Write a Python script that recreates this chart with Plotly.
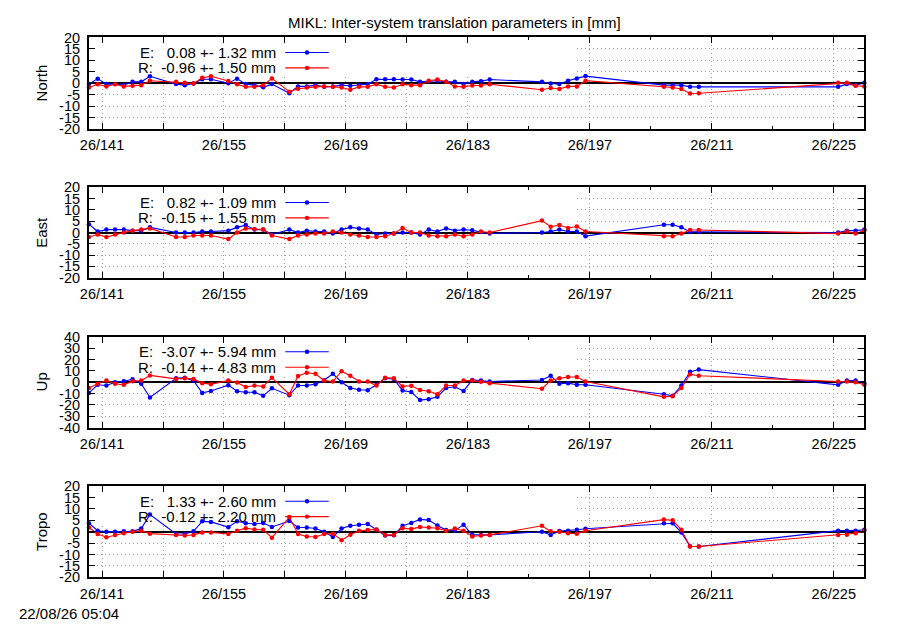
import plotly.graph_objects as go

# ---------------- data ----------------
days = [139.5, 140.5, 141.5, 142.5, 143.5, 144.5, 145.5, 146.5,
        149.5, 150.5, 151.5, 152.5, 153.5,
        155.5, 156.5, 157.5, 158.5, 159.5, 160.5,
        162.5, 163.5, 164.5, 165.5, 166.5, 167.5, 168.5, 169.5, 170.5, 171.5,
        172.5, 173.5, 174.5, 175.5, 176.5, 177.5, 178.5, 179.5, 180.5, 181.5,
        182.5, 183.5, 184.5, 185.5,
        191.5, 192.5, 193.5, 194.5, 195.5, 196.5,
        205.5, 206.5, 207.5, 208.5, 209.5,
        225.5, 226.5, 227.5, 228.5]

north_e = [-0.4, 2.0, -0.4, -0.4, -0.85, 0.6, 0.6, 3.0,
           -0.4, -0.85, -0.1, 1.7, 1.7,
           0.0, 2.0, -0.4, -0.85, -1.8, -0.4,
           -4.4, -1.4, -1.4, -0.85, -1.6, -1.4, -0.85, -1.1, -0.85, -0.4,
           1.7, 1.7, 1.7, 1.6, 1.6, 0.6, 0.85, 1.1, 0.6, 0.6,
           -0.4, 0.6, 0.9, 1.6,
           0.6, -0.15, -0.4, 1.1, 2.1, 3.1,
           -0.85, -0.85, -0.85, -1.6, -1.6,
           -1.6, -0.4, -0.85, 0.15]
north_r = [-1.85, -0.45, -1.4, -0.45, -1.4, -1.1, -0.85, 1.1,
           0.6, 0.15, -0.15, 2.4, 3.0,
           1.0, -0.45, -1.6, -1.6, -0.85, 2.1,
           -3.7, -2.4, -1.85, -1.6, -1.4, -1.6, -1.85, -2.85, -1.6, -1.6,
           -0.45, -1.6, -1.85, -0.45, -0.85, -0.85, 1.1, 1.6, 0.6, -1.4,
           -1.6, -1.0, -1.0, -0.45,
           -2.85, -2.1, -2.55, -1.4, -1.4, 1.1,
           -1.6, -1.85, -2.55, -4.5, -4.4,
           0.15, 0.15, -1.1, -1.4]

east_e = [3.7, 0.45, 1.3, 1.3, 1.3, 0.85, 0.85, 2.3,
          0.0, 0.0, 0.0, 0.45, 0.45,
          0.85, 2.3, 3.3, 1.3, 1.3, -0.85,
          1.3, 0.0, 0.85, 0.45, 0.45, -0.45, 1.3, 2.3, 1.85, 1.3,
          -0.85, -0.45, -0.45, 0.0, 0.0, -0.85, 1.3, 0.45, 1.85, 0.85,
          1.3, 1.0, 0.2, -0.4,
          0.0, 0.45, 1.3, 0.45, 0.45, -1.6,
          3.45, 3.45, 2.3, 0.3, 0.3,
          0.0, 0.85, 0.85, 1.3]
east_r = [-2.0, -0.85, -2.0, -0.85, 0.0, 0.85, 1.3, 1.85,
          -2.0, -2.0, -1.3, -1.3, -1.3,
          -2.9, 0.0, 1.85, 1.6, 1.3, -1.3,
          -2.9, -1.3, -0.85, -0.45, -0.45, 0.45, 0.0, -0.85, -1.3, -2.0,
          -2.0, -1.6, -0.45, 2.0, 0.0, 0.0, -1.3, -1.6, -1.6, -0.85,
          -1.6, -0.85, 0.45, 0.0,
          5.3, 2.6, 3.3, 2.0, 2.7, 0.45,
          -1.6, -1.6, -0.45, 1.15, 1.15,
          -0.45, 0.45, -0.45, 0.85]

up_e = [-9.4, -2.3, -2.9, 0.0, 0.85, 2.6, -1.4, -13.4,
        3.4, 4.0, 1.4, -9.4, -7.7,
        -2.6, -8.0, -8.9, -8.9, -12.0, -5.4,
        -11.4, -2.9, -2.9, -1.7, 1.7, 7.4, 0.0, -5.1, -6.6, -7.1,
        -2.3, 3.4, 2.9, -7.4, -8.6, -15.7, -14.9, -12.9, -5.1, -4.0,
        -7.7, 2.0, 1.4, 0.6,
        2.0, 5.7, -1.4, -0.85, -2.3, -2.3,
        -10.6, -12.0, -2.9, 9.1, 11.1,
        -2.3, 1.4, 1.4, -0.85]
up_r = [-5.1, -1.4, 1.4, -1.4, -2.3, 0.85, 1.4, 6.0,
        2.9, 3.4, 2.9, -0.85, -1.7,
        1.4, -0.3, -4.3, -2.9, -3.7, 4.0,
        -10.6, 5.4, 8.3, 7.4, 1.4, 0.6, 9.7, 5.7, 0.6, 0.6,
        -2.9, 4.0, 3.4, -3.7, -3.1, -6.9, -8.0, -10.6, -2.9, -2.9,
        1.4, 1.4, 0.3, -0.85,
        -5.7, 1.4, 3.4, 4.6, 4.6, 0.6,
        -12.9, -12.3, -5.1, 6.9, 5.7,
        0.6, 0.6, 0.0, -2.3]

tropo_e = [3.7, 0.45, 0.0, 0.0, 0.15, 0.15, 1.4, 7.5,
           -1.0, -1.0, 0.15, 4.55, 4.3,
           2.0, 4.55, 3.7, 3.4, 3.8, 2.1,
           4.7, 1.85, 1.85, 1.4, 0.0, -2.3, 1.4, 2.6, 3.0, 3.4,
           0.85, -1.7, -1.6, 2.6, 3.8, 5.4, 5.1, 2.7, 0.7, 0.45,
           3.1, -1.4, -1.4, -1.4,
           0.0, -1.4, 0.3, 0.45, 0.85, 1.3,
           3.7, 3.7, -0.3, -6.4, -6.5,
           0.45, 0.45, 0.45, 0.85]
tropo_r = [1.85, -1.0, -2.4, -1.4, -0.7, 0.0, 0.45, -0.85,
           -1.4, -1.7, -1.4, -0.3, -0.3,
           -1.0, 0.45, 1.55, 1.0, 0.85, -2.6,
           6.4, -1.0, -2.1, -2.3, -1.0, -0.85, -3.7, -1.3, 0.45, 0.7,
           1.0, -1.4, -1.4, 1.55, 1.15, 2.1, 1.85, 1.55, 0.45, 1.4,
           0.45, -2.1, -1.7, -1.4,
           2.6, 0.15, 0.0, -0.7, -0.85, 0.45,
           5.3, 5.0, 0.85, -6.5, -6.5,
           -1.4, -1.3, -0.7, 0.45]

panel_names = ["North", "East", "Up", "Tropo"]
series_e = [north_e, east_e, up_e, tropo_e]
series_r = [north_r, east_r, up_r, tropo_r]
stats_e = [(0.08, 1.32), (0.82, 1.09), (-3.07, 5.94), (1.33, 2.60)]
stats_r = [(-0.96, 1.50), (-0.15, 1.55), (-0.14, 4.83), (-0.12, 2.20)]
y_limits = [20, 20, 40, 20]
y_steps = [5, 5, 10, 5]

x_range = [139.5, 228.5]
x_major = [141, 148, 155, 162, 169, 176, 183, 197, 211, 225]
x_labels = ["26/141", "", "26/155", "", "26/169", "", "26/183", "26/197", "26/211", "26/225"]
x_minor = [190, 204, 218]

title_text = "MIKL: Inter-system translation parameters in [mm]"
stamp_text = "22/08/26 05:04"

# ---------------- layout geometry ----------------
# The page keeps the browser's default 8px body margin, so the figure is made
# 16px smaller and every target position (in window pixels) is shifted by 8px.
OFF = 8
W, H = 900 - 2 * OFF, 630 - 2 * OFF
X0, X1 = 80.7 - OFF, 864.0 - OFF
panel_px = [(30.0, 124.0), (184.0, 276.7), (337.3, 430.7), (490.7, 584.3)]

FONT = "Liberation Sans, Arial, Helvetica, sans-serif"
BLUE = "#0000ff"
RED = "#ff0000"
GRID = "#a0a0a0"
GRID_DASH = "1px,3px"

fig = go.Figure()
layout = dict(
    width=W, height=H, autosize=False,
    margin=dict(l=0, r=0, t=0, b=0),
    paper_bgcolor="white", plot_bgcolor="white",
    showlegend=False,
    font=dict(family=FONT, size=15, color="black"),
)
shapes = []
annotations = []

nbsp = "\u00a0"


def xfrac(px):
    """window pixel -> fraction of the x-axis domain"""
    return (px - OFF - X0) / (X1 - X0)


def ypaper(py):
    return 1 - (py - OFF) / H


def xpaper(px):
    return (px - OFF) / W


for i in range(4):
    n = "" if i == 0 else str(i + 1)
    xa, ya = "x" + n, "y" + n
    top, bot = panel_px[i]
    ph = bot - top
    ydom = [ypaper(bot), ypaper(top)]
    lim, step = y_limits[i], y_steps[i]

    fig.add_trace(go.Scatter(
        x=days, y=series_e[i], xaxis=xa, yaxis=ya, mode="lines+markers",
        line=dict(color=BLUE, width=1.1), marker=dict(color=BLUE, size=4.5, symbol="circle"),
        cliponaxis=False, name="E"))
    fig.add_trace(go.Scatter(
        x=days, y=series_r[i], xaxis=xa, yaxis=ya, mode="lines+markers",
        line=dict(color=RED, width=1.1), marker=dict(color=RED, size=4.5, symbol="circle"),
        cliponaxis=False, name="R"))

    yvals = list(range(-lim, lim + 1, step))
    layout["xaxis" + n] = dict(
        domain=[X0 / W, X1 / W], anchor=ya, range=x_range,
        tickmode="array", tickvals=x_major, ticktext=x_labels,
        ticks="inside", ticklen=6, tickwidth=1, tickcolor="black",
        minor=dict(tickmode="array", tickvals=x_minor, ticks="inside", ticklen=3,
                   tickwidth=1, tickcolor="black", showgrid=False),
        showline=True, linewidth=2, linecolor="black", mirror="allticks",
        showgrid=True, gridcolor=GRID, griddash=GRID_DASH, gridwidth=1,
        zeroline=False, tickfont=dict(family=FONT, size=14.5, color="black"),
        ticklabelstandoff=2, fixedrange=True,
    )
    layout["yaxis" + n] = dict(
        domain=ydom, anchor=xa, range=[-lim, lim],
        tickmode="array", tickvals=yvals, ticktext=[str(v) for v in yvals],
        ticks="inside", ticklen=6, tickwidth=1, tickcolor="black",
        showline=True, linewidth=2, linecolor="black", mirror="allticks",
        showgrid=True, gridcolor=GRID, griddash=GRID_DASH, gridwidth=1,
        zeroline=True, zerolinecolor="black", zerolinewidth=2,
        tickfont=dict(family=FONT, size=14.5, color="black"),
        ticklabelstandoff=4, fixedrange=True,
    )

    # opaque key box (hides the grid, stays under the data) - in axis units
    span = x_range[1] - x_range[0]
    shapes.append(dict(type="rect", xref=xa, yref=ya,
                       x0=x_range[0] + span * 0.004, x1=x_range[0] + span * xfrac(573.3),
                       y0=lim - 2 * lim * 39.5 / ph, y1=lim - 2 * lim * 0.012,
                       fillcolor="white", line=dict(width=0), layer="between"))

    # key entries: text then sample line with point
    key_right = xfrac(272.0)
    s0, s1, sm = xfrac(279.0), xfrac(323.0), xfrac(301.0)
    for j, (lab, st, col) in enumerate([("E:", stats_e[i], BLUE), ("R:", stats_r[i], RED)]):
        yk = 1 - (15.5 + 15.8 * j) / ph
        txt = f"{lab} {st[0]:6.2f} +- {st[1]:4.2f} mm".replace(" ", nbsp)
        annotations.append(dict(text=txt, xref=xa + " domain", yref=ya + " domain",
                                x=key_right, y=yk, xanchor="right", yanchor="middle",
                                showarrow=False, font=dict(family=FONT, size=15, color="black")))
        shapes.append(dict(type="line", xref=xa + " domain", yref=ya + " domain",
                           x0=s0, x1=s1, y0=yk, y1=yk, line=dict(color=col, width=1.1),
                           layer="above"))
        shapes.append(dict(type="circle", xref=xa + " domain", yref=ya + " domain",
                           xsizemode="pixel", ysizemode="pixel", xanchor=sm, yanchor=yk,
                           x0=-2.2, x1=2.2, y0=-2.2, y1=2.2,
                           fillcolor=col, line=dict(color=col, width=0), layer="above"))

    # y axis title
    annotations.append(dict(text=panel_names[i], xref="paper", yref="paper",
                            x=xpaper(32.5), y=ypaper((top + bot) / 2), textangle=-90,
                            xanchor="center", yanchor="middle", showarrow=False,
                            font=dict(family=FONT, size=15, color="black")))

annotations.append(dict(text=title_text, xref="paper", yref="paper", x=xpaper(450), y=ypaper(15),
                        xanchor="center", yanchor="middle", showarrow=False,
                        font=dict(family=FONT, size=15, color="black")))
annotations.append(dict(text=stamp_text, xref="paper", yref="paper", x=xpaper(8.5), y=ypaper(621.5),
                        xanchor="left", yanchor="middle", showarrow=False,
                        font=dict(family=FONT, size=15, color="black")))

layout["shapes"] = shapes
layout["annotations"] = annotations
fig.update_layout(**layout)

fig.write_html("out.html", config={"displayModeBar": False})
